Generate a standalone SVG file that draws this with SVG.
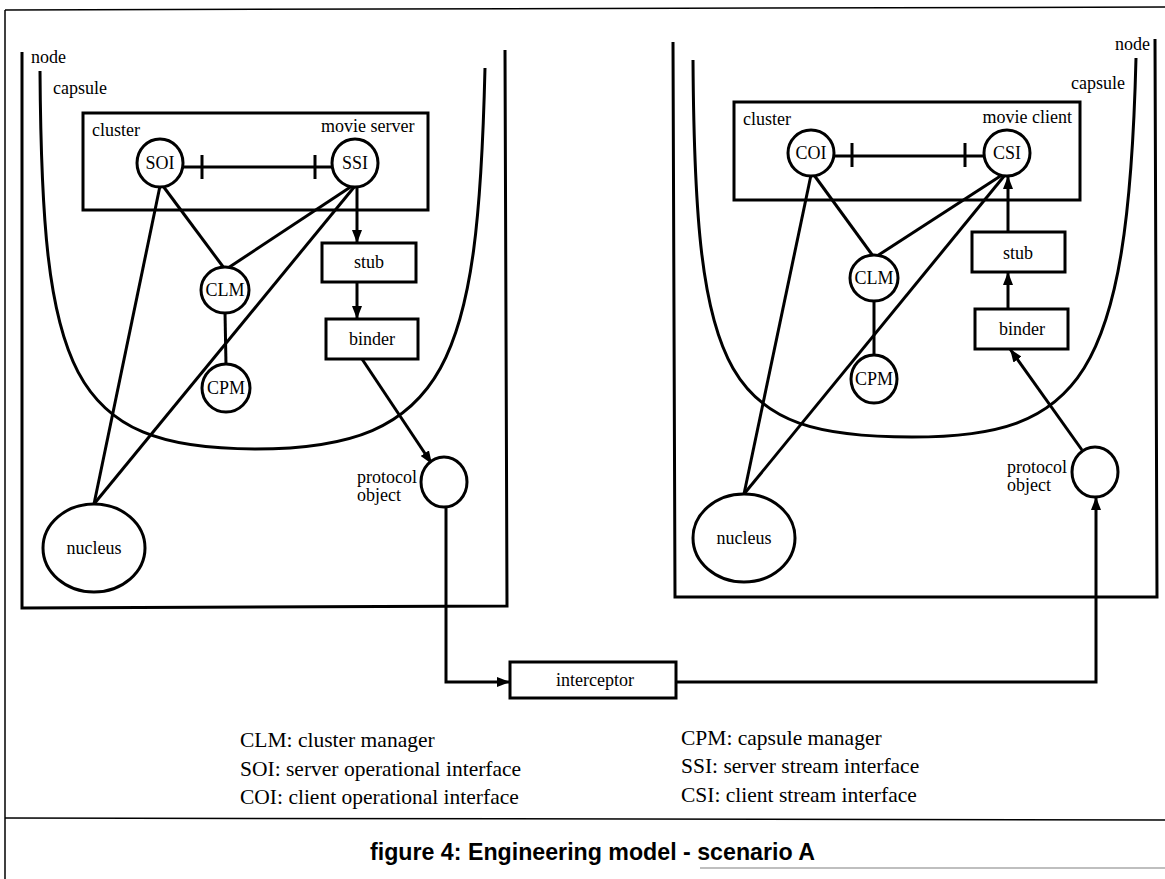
<svg xmlns="http://www.w3.org/2000/svg" width="1165" height="879" viewBox="0 0 1165 879">
<defs>
<style>
.t{font-family:"Liberation Serif","Times New Roman",serif;font-size:18px;fill:#000}
.c{text-anchor:middle}
.e{text-anchor:end}
.lg{font-family:"Liberation Serif","Times New Roman",serif;font-size:21.5px;fill:#000}
.cap{font-family:"Liberation Sans",Arial,sans-serif;font-size:23.2px;font-weight:bold;fill:#000}
.thick{fill:none;stroke:#000;stroke-width:3}
.shape{fill:#fff;stroke:#000;stroke-width:3}
.frame{fill:none;stroke:#000;stroke-width:1.5}
.ln{fill:none;stroke:#000;stroke-width:3}
.arr{fill:none;stroke:#000;stroke-width:3;marker-end:url(#ah)}
</style>
<marker id="ah" markerUnits="userSpaceOnUse" markerWidth="14" markerHeight="10" refX="13" refY="5" orient="auto">
<path d="M0,0 L13,5 L0,10 z" fill="#000"/>
</marker>
</defs>
<rect x="0" y="0" width="1165" height="879" fill="#fff"/>

<g id="frame">
<line class="frame" x1="5" y1="10" x2="1165" y2="7"/>
<line class="frame" x1="5" y1="10" x2="5" y2="879"/>
<line class="frame" x1="5" y1="818" x2="1165" y2="820"/>
<line x1="700" y1="868" x2="1165" y2="868" stroke="#aaa" stroke-width="1.5"/>
</g>

<!-- Left side containers -->
<g id="left-node">
<path class="thick" d="M22,52 L22,608 L507,606 L505,50"/>
<text class="t" x="31" y="63">node</text>
</g>
<g id="left-capsule">
<path class="thick" d="M40,71 C42,370 68,449 255,449 C450,449 478,360 485,68"/>
<text class="t" x="53" y="94">capsule</text>
</g>
<g id="left-cluster">
<rect class="thick" x="83" y="113" width="345" height="97"/>
<text class="t" x="92" y="136">cluster</text>
<text class="t" x="321" y="132">movie server</text>
</g>

<!-- Right side containers -->
<g id="right-node">
<path class="thick" d="M673,42 L675,597 L1157,597 L1155,39"/>
<text class="t e" x="1150" y="50">node</text>
</g>
<g id="right-capsule">
<path class="thick" d="M693,60 C695,380 725,437 912,437 C1080,437 1128,380 1136,58"/>
<text class="t e" x="1125" y="89">capsule</text>
</g>
<g id="right-cluster">
<rect class="thick" x="734" y="102" width="346" height="98"/>
<text class="t" x="743" y="125">cluster</text>
<text class="t e" x="1072" y="123">movie client</text>
</g>

<g id="connectors">
<!-- left -->
<line class="ln" x1="183" y1="167" x2="332" y2="167"/>
<line class="ln" x1="202" y1="155" x2="202" y2="179"/>
<line class="ln" x1="315" y1="155" x2="315" y2="179"/>
<line class="ln" x1="160" y1="186" x2="94" y2="504"/>
<line class="ln" x1="163" y1="186" x2="224" y2="268"/>
<line class="ln" x1="352" y1="186" x2="228" y2="268"/>
<line class="ln" x1="355" y1="186" x2="94" y2="504"/>
<line class="ln" x1="225" y1="312" x2="226" y2="365"/>
<line class="arr" x1="357" y1="187" x2="357" y2="243"/>
<line class="arr" x1="357" y1="282" x2="357" y2="319"/>
<line class="arr" x1="362" y1="359" x2="432" y2="464"/>
<polyline class="arr" points="446,507 446,682 510,682"/>
<!-- right -->
<line class="ln" x1="834" y1="156" x2="984" y2="156"/>
<line class="ln" x1="852" y1="143" x2="852" y2="167"/>
<line class="ln" x1="965" y1="143" x2="965" y2="167"/>
<line class="ln" x1="811" y1="175" x2="744" y2="494"/>
<line class="ln" x1="814" y1="175" x2="873" y2="256"/>
<line class="ln" x1="1002" y1="175" x2="877" y2="256"/>
<line class="ln" x1="1005" y1="175" x2="744" y2="494"/>
<line class="ln" x1="874" y1="300" x2="874" y2="356"/>
<line class="arr" x1="1008" y1="232" x2="1008" y2="176"/>
<line class="arr" x1="1008" y1="309" x2="1008" y2="272"/>
<line class="arr" x1="1082" y1="450" x2="1010" y2="349"/>
<polyline class="arr" points="676,682 1096,682 1096,497"/>
</g>

<!-- Left nodes -->
<g id="SOI">
<ellipse class="shape" cx="160" cy="163" rx="23" ry="24"/>
<text class="t c" x="160" y="169">SOI</text>
</g>
<g id="SSI">
<ellipse class="shape" cx="355" cy="163" rx="23" ry="24"/>
<text class="t c" x="355" y="169">SSI</text>
</g>
<g id="CLM-left">
<ellipse class="shape" cx="225" cy="290" rx="24" ry="23"/>
<text class="t c" x="225" y="296" font-size="19">CLM</text>
</g>
<g id="CPM-left">
<ellipse class="shape" cx="226" cy="388" rx="24" ry="24"/>
<text class="t c" x="226" y="394" font-size="19">CPM</text>
</g>
<g id="stub-left">
<rect class="shape" x="322" y="243" width="94" height="39"/>
<text class="t c" x="369" y="268">stub</text>
</g>
<g id="binder-left">
<rect class="shape" x="326" y="319" width="92" height="40"/>
<text class="t c" x="372" y="345">binder</text>
</g>
<g id="nucleus-left">
<ellipse class="shape" cx="94" cy="548" rx="51" ry="44"/>
<text class="t c" x="94" y="554">nucleus</text>
</g>
<g id="protocol-left">
<ellipse class="shape" cx="444" cy="482" rx="23" ry="25"/>
<text class="t" x="357" y="483">protocol</text>
<text class="t" x="357" y="501">object</text>
</g>

<!-- Right nodes -->
<g id="COI">
<ellipse class="shape" cx="811" cy="153" rx="23" ry="23"/>
<text class="t c" x="811" y="159">COI</text>
</g>
<g id="CSI">
<ellipse class="shape" cx="1007" cy="153" rx="23" ry="23"/>
<text class="t c" x="1007" y="159">CSI</text>
</g>
<g id="CLM-right">
<ellipse class="shape" cx="874" cy="278" rx="24" ry="23"/>
<text class="t c" x="874" y="284" font-size="19">CLM</text>
</g>
<g id="CPM-right">
<ellipse class="shape" cx="874" cy="379" rx="23" ry="24"/>
<text class="t c" x="874" y="385" font-size="19">CPM</text>
</g>
<g id="stub-right">
<rect class="shape" x="972" y="232" width="93" height="40"/>
<text class="t c" x="1018" y="259">stub</text>
</g>
<g id="binder-right">
<rect class="shape" x="975" y="309" width="93" height="40"/>
<text class="t c" x="1022" y="335">binder</text>
</g>
<g id="nucleus-right">
<ellipse class="shape" cx="744" cy="538" rx="51" ry="44"/>
<text class="t c" x="744" y="544">nucleus</text>
</g>
<g id="protocol-right">
<ellipse class="shape" cx="1095" cy="472" rx="23" ry="25"/>
<text class="t" x="1007" y="473">protocol</text>
<text class="t" x="1007" y="491">object</text>
</g>

<g id="interceptor">
<rect class="shape" x="510" y="662" width="166" height="36"/>
<text class="t c" x="595" y="686">interceptor</text>
</g>

<g id="legend">
<text class="lg" x="240" y="747">CLM: cluster manager</text>
<text class="lg" x="240" y="776">SOI: server operational interface</text>
<text class="lg" x="240" y="804">COI: client operational interface</text>
<text class="lg" x="681" y="745">CPM: capsule manager</text>
<text class="lg" x="681" y="773">SSI: server stream interface</text>
<text class="lg" x="681" y="802">CSI: client stream interface</text>
</g>

<g id="caption">
<text class="cap" x="370" y="860">figure 4: Engineering model - scenario A</text>
</g>
</svg>
